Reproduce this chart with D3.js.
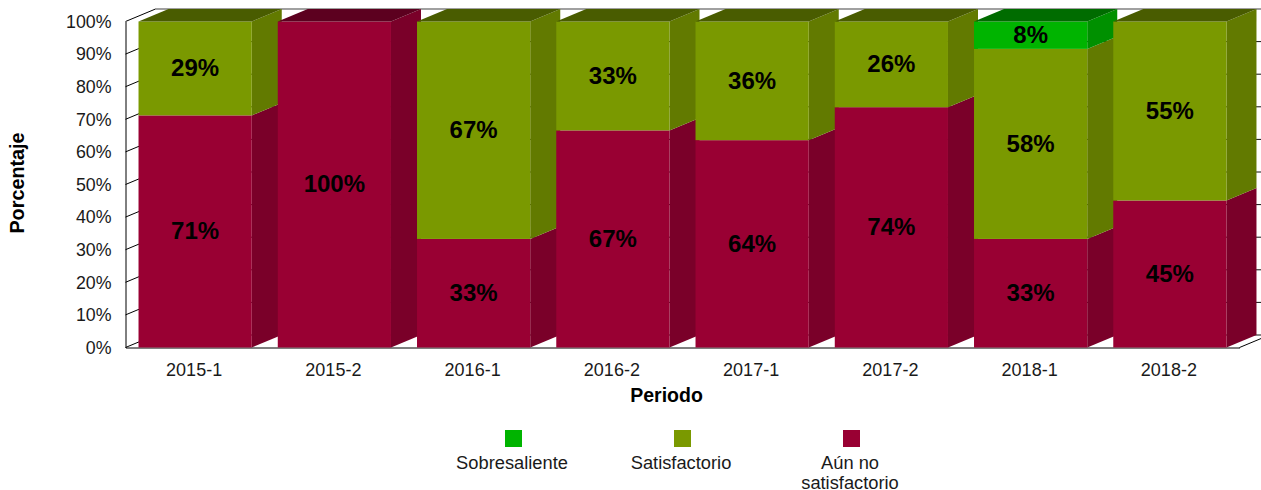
<!DOCTYPE html>
<html>
<head>
<meta charset="utf-8">
<script src="https://d3js.org/d3.v7.min.js"></script>
<style>
  html, body { margin: 0; padding: 0; background: #fff; overflow: hidden; }
  text { font-family: "Liberation Sans", Arial, sans-serif; fill: #1a1a1a; }
</style>
</head>
<body>
<script>
// values, percent of each period
var periods = ['2015-1', '2015-2', '2016-1', '2016-2', '2017-1', '2017-2', '2018-1', '2018-2'];
var insatisfactorio = [71.2, 100, 33.3, 66.6, 63.6, 73.7, 33.3, 45.1];
var satisfactorio = [28.8, 0, 66.7, 33.4, 36.4, 26.3, 58.3, 54.9];
var sobresaliente = [0, 0, 0, 0, 0, 0, 8.4, 0];
var yTicks = [0, 10, 20, 30, 40, 50, 60, 70, 80, 90, 100];

var seriesNames = ['Sobresaliente', 'Satisfactorio', 'Aún no satisfactorio'];
var seriesColors = ['#00b400', '#7a9900', '#990033'];

// layout
var width = 1261, height = 490;
var depthX = 30, depthY = 12.5;

var x = d3.scaleBand().domain(periods).range([125.5, 1239.5]).paddingInner(0.187).paddingOuter(0.0935);
var y = d3.scaleLinear().domain([0, 100]).range([347.5, 21.5]);
var color = d3.scaleOrdinal().domain(seriesNames).range(seriesColors);

var svg = d3.select('body').append('svg').attr('width', width).attr('height', height);

// back wall grid
svg.append('g').selectAll('line').data(yTicks).enter().append('line')
    .attr('x1', x.range()[0] + depthX).attr('x2', x.range()[1] + depthX)
    .attr('y1', d => y(d) - depthY).attr('y2', d => y(d) - depthY)
    .attr('stroke', d => d == 100 ? '#808080' : '#111')
    .attr('stroke-width', d => d == 100 ? 1.6 : 1);

// side wall ticks
svg.append('g').selectAll('line').data(yTicks).enter().append('line')
    .attr('x1', x.range()[0]).attr('x2', x.range()[0] + depthX)
    .attr('y1', d => y(d)).attr('y2', d => y(d) - depthY)
    .attr('stroke', '#000');

// floor edge on the right
svg.append('line')
    .attr('x1', x.range()[1]).attr('x2', x.range()[1] + depthX)
    .attr('y1', y(0)).attr('y2', y(0) - depthY)
    .attr('stroke', '#000');

// axes
var yAxis = svg.append('g').attr('transform', 'translate(125.5,0)')
    .call(d3.axisLeft(y).tickValues(yTicks).tickFormat(d => d + '%').tickSize(0).tickPadding(14));
yAxis.select('.domain').attr('stroke', '#000');
yAxis.selectAll('text').attr('font-size', 17.8).attr('dy', '0.32em').style('font-family', null);

var xAxis = svg.append('g').attr('transform', 'translate(0,347.5)')
    .call(d3.axisBottom(x).tickSize(0).tickPadding(15.5));
xAxis.select('.domain').attr('stroke', '#000');
xAxis.selectAll('text').attr('font-size', 18).attr('dx', -1).attr('dy', '0.71em').style('font-family', null);

// stacked 3d columns, bottom segment first
var stackRows = periods.map((p, i) => ({
    period: p,
    'Aún no satisfactorio': insatisfactorio[i],
    'Satisfactorio': satisfactorio[i],
    'Sobresaliente': sobresaliente[i]
}));
var stacked = d3.stack().keys(['Aún no satisfactorio', 'Satisfactorio', 'Sobresaliente'])(stackRows);

function poly(pts) { return pts.map(p => p.join(',')).join(' '); }

periods.forEach((p, i) => {
    var g = svg.append('g').attr('class', 'column');
    var x0 = x(p), x1 = x(p) + x.bandwidth();
    var segs = stacked.map(s => ({ key: s.key, y0: s[i][0], y1: s[i][1] })).filter(s => s.y1 > s.y0);
    var top = segs[segs.length - 1];

    segs.forEach(s => {
        var c = d3.color(color(s.key));
        // side face
        g.append('polygon')
            .attr('points', poly([[x1, y(s.y0)], [x1 + depthX, y(s.y0) - depthY], [x1 + depthX, y(s.y1) - depthY], [x1, y(s.y1)]]))
            .attr('fill', d3.rgb(c.r * 0.8, c.g * 0.8, c.b * 0.8));
        // front face
        g.append('rect')
            .attr('x', x0).attr('width', x.bandwidth())
            .attr('y', y(s.y1)).attr('height', y(s.y0) - y(s.y1))
            .attr('fill', c);
        // top face only on the last segment
        if (s === top) {
            g.append('polygon')
                .attr('points', poly([[x0, y(s.y1)], [x1, y(s.y1)], [x1 + depthX, y(s.y1) - depthY], [x0 + depthX, y(s.y1) - depthY]]))
                .attr('fill', d3.rgb(c.r * 0.6, c.g * 0.6, c.b * 0.6));
        }
    });

    segs.forEach(s => {
        g.append('text')
            .attr('x', (x0 + x1) / 2)
            .attr('y', (y(s.y0) + y(s.y1)) / 2)
            .attr('dy', '0.32em')
            .attr('text-anchor', 'middle')
            .attr('font-size', 24)
            .attr('font-weight', 'bold')
            .style('fill', '#000')
            .text(Math.round(s.y1 - s.y0) + '%');
    });
});

// axis titles
svg.append('text').attr('x', 666.5).attr('y', 402).attr('text-anchor', 'middle')
    .attr('font-size', 19.5).attr('font-weight', 'bold').style('fill', '#000').text('Periodo');
svg.append('text').attr('transform', 'translate(23.5,183) rotate(-90)').attr('text-anchor', 'middle')
    .attr('font-size', 19.8).attr('font-weight', 'bold').style('fill', '#000').text('Porcentaje');

// legend
var legendX = d3.scalePoint().domain(seriesNames).range([513.5, 851.5]);
var legend = svg.append('g').selectAll('g').data(seriesNames).enter().append('g')
    .attr('transform', d => 'translate(' + legendX(d) + ',0)');
legend.append('rect').attr('x', -8.5).attr('y', 430).attr('width', 17).attr('height', 17).attr('fill', d => color(d));
legend.each(function(d) {
    var lines = d == 'Aún no satisfactorio' ? ['Aún no', 'satisfactorio'] : [d];
    d3.select(this).selectAll('text').data(lines).enter().append('text')
        .attr('text-anchor', 'middle').attr('font-size', 18.3)
        .attr('x', -1.5)
        .attr('y', (l, i) => 469 + i * 20)
        .text(l => l);
});
</script>
</body>
</html>
